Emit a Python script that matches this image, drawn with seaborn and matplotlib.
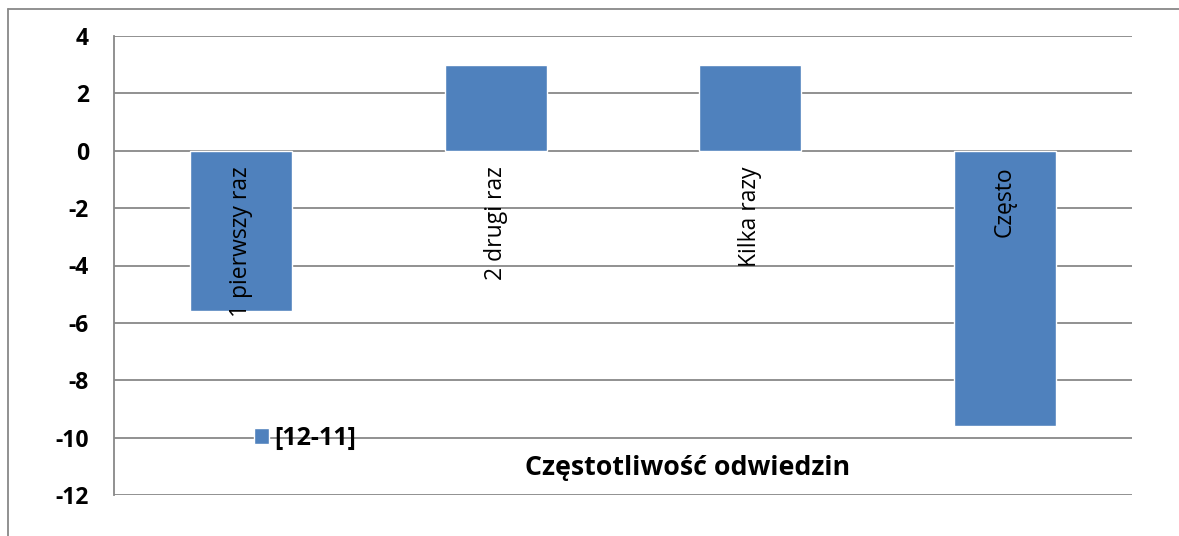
import matplotlib
matplotlib.use("Agg")
import matplotlib.pyplot as plt
import matplotlib.transforms as mtransforms
import pandas as pd
import seaborn as sns

# --- dane ---
kategorie = ["1 pierwszy raz", "2 drugi raz", "Kilka razy", "Często"]
wartosci = [-5.6, 3.0, 3.0, -9.6]
seria = "[12-11]"
tytul_osi_x = "Częstotliwość odwiedzin"
y_ticks = [4, 2, 0, -2, -4, -6, -8, -10, -12]

KOLOR = "#4F81BD"
SIATKA = "#888888"

sns.set_style("white")
plt.rcParams["font.family"] = ["Open Sans", "DejaVu Sans"]
plt.rcParams["text.color"] = "black"
plt.rcParams["ytick.color"] = "black"

df = pd.DataFrame({"kategoria": kategorie, "wartosc": wartosci})

fig = plt.figure(figsize=(11.79, 5.36), dpi=100)
ax = fig.add_axes([114 / 1179, 1 - 495 / 536, (1132 - 114) / 1179, (495 - 36) / 536])

sns.barplot(data=df, x="kategoria", y="wartosc", color=KOLOR, width=0.4,
            saturation=1, label=seria, ax=ax, zorder=3)

ax.set_ylim(-12, 4)
ax.set_yticks(y_ticks)
ax.set_yticklabels([str(t) for t in y_ticks], fontsize=16.5, fontweight="bold",
                   color="black")
ax.tick_params(axis="y", length=0, pad=18)
ax.set_xlim(-0.5, len(kategorie) - 0.5)
ax.set_xticks([])
ax.set_xlabel("")
ax.set_ylabel("")

ax.grid(axis="y", color=SIATKA, linewidth=1.3, zorder=0)
ax.set_axisbelow(True)
for s in ["top", "right", "bottom"]:
    ax.spines[s].set_visible(False)
ax.spines["left"].set_color(SIATKA)
ax.spines["left"].set_linewidth(1.3)

# etykiety kategorii przy osi (pionowo, tuż pod zerem)
off = mtransforms.offset_copy(ax.transData, fig=fig, x=0, y=-11, units="points")
for i, k in enumerate(kategorie):
    ax.text(i, 0, k, rotation=90, ha="center", va="top", fontsize=16.5,
            color="black", transform=off, zorder=4)

ax.text(0.563, 0.059, tytul_osi_x, transform=ax.transAxes, ha="center",
        va="center", fontsize=19.3, fontweight="bold", color="black")

leg = ax.legend(loc="center left", bbox_to_anchor=(0.1375, 0.124), frameon=False,
                borderpad=0, borderaxespad=0, handlelength=0.6, handleheight=0.6,
                handletextpad=0.2, prop={"weight": "bold", "size": 18})
for t in leg.get_texts():
    t.set_color("black")

# ramka wykresu (widoczna tylko lewa i górna krawędź)
fig.add_artist(plt.Line2D([8 / 1179, 8 / 1179], [0, 1 - 9 / 536], color=SIATKA,
                          linewidth=1.3, transform=fig.transFigure))
fig.add_artist(plt.Line2D([8 / 1179, 1], [1 - 9 / 536, 1 - 9 / 536], color=SIATKA,
                          linewidth=1.3, transform=fig.transFigure))

fig.savefig("out.png", dpi=100)
plt.close(fig)
